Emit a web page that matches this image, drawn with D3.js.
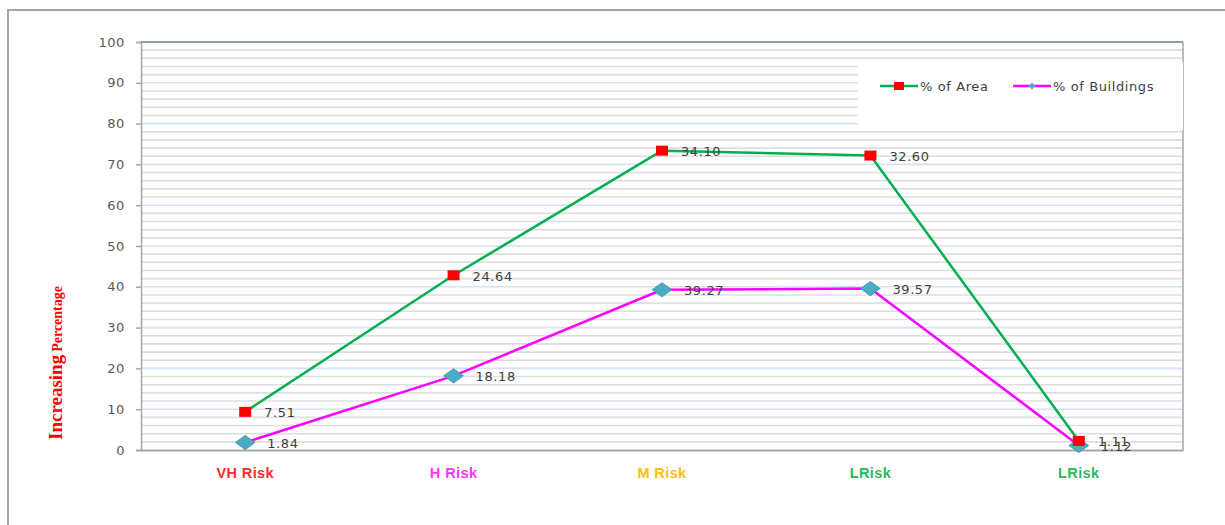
<!DOCTYPE html>
<html>
<head>
<meta charset="utf-8">
<script src="https://cdn.jsdelivr.net/npm/d3@7"></script>
<style>
  body { margin: 0; background: #fff; }
  svg { display: block; }
</style>
</head>
<body>
<svg id="chart" width="1225" height="525"></svg>
<script>
// categories and their label colours
const categories = ['VH Risk', 'H Risk', 'M Risk', 'LRisk', 'LRisk ']
const category_colors = ['#ff2a2a', '#ff33ff', '#ffc000', '#2eb85c', '#2eb85c']

// series values (the chart stacks Area on top of Buildings)
const buildings = [1.84, 18.18, 39.27, 39.57, 1.12]
const area = [7.51, 24.64, 34.10, 32.60, 1.11]

const y_ticks = [0, 10, 20, 30, 40, 50, 60, 70, 80, 90, 100]

const svg = d3.select('#chart')
const width = 1225, height = 525
const margin = ({ top: 42, right: 42, bottom: 75, left: 141 })

// outer frame
svg.append('path')
    .attr('d', `M8,${height} V10 H${width}`)
    .attr('fill', 'none')
    .attr('stroke', '#a6a6a6')
    .attr('stroke-width', 2)

const x = d3.scaleBand()
    .domain(categories)
    .range([margin.left, width - margin.right])
const y = d3.scaleLinear()
    .domain([0, 100])
    .range([height - margin.bottom, margin.top])

// minor grid every 2, major grid every 10
const minor = d3.range(2, 100, 2).filter(v => v % 10 !== 0)
svg.append('g')
    .selectAll('line')
    .data(minor)
    .join('line')
    .attr('x1', margin.left).attr('x2', width - margin.right)
    .attr('y1', d => y(d)).attr('y2', d => y(d))
    .attr('stroke', '#dedede')
    .attr('stroke-width', 1.6)
svg.append('g')
    .selectAll('line')
    .data(y_ticks.slice(1, -1))
    .join('line')
    .attr('x1', margin.left).attr('x2', width - margin.right)
    .attr('y1', d => y(d)).attr('y2', d => y(d))
    .attr('stroke', '#d5e1f5')
    .attr('stroke-width', 1.6)

// plot border
svg.append('line')
    .attr('x1', margin.left).attr('x2', width - margin.right)
    .attr('y1', y(100)).attr('y2', y(100))
    .attr('stroke', '#8e99ad').attr('stroke-width', 2)
svg.append('line')
    .attr('x1', width - margin.right).attr('x2', width - margin.right)
    .attr('y1', y(100)).attr('y2', y(0))
    .attr('stroke', '#a6a6a6').attr('stroke-width', 1.5)

// legend box
svg.append('rect')
    .attr('x', 858).attr('y', 62)
    .attr('width', width - margin.right - 858).attr('height', 68)
    .attr('fill', '#fff')

// axes
const yAxis = g => g
    .attr('transform', `translate(${margin.left},0)`)
    .call(d3.axisLeft(y).tickValues(y_ticks).tickSize(5).tickPadding(11))
const xAxis = g => g
    .attr('transform', `translate(0,${y(0)})`)
    .call(d3.axisBottom(x).tickSize(0).tickFormat(''))

svg.append('g').call(yAxis)
    .call(g => g.selectAll('line, path').attr('stroke', '#a6a6a6').attr('stroke-width', 1.5))
    .call(g => g.selectAll('text')
        .attr('font-family', 'DejaVu Sans')
        .attr('font-size', 13)
        .attr('letter-spacing', 0.6)
        .attr('fill', '#595959'))
svg.append('g').call(xAxis)
    .call(g => g.select('path').attr('stroke', '#a6a6a6').attr('stroke-width', 2))

svg.append('g')
    .selectAll('text')
    .data(categories)
    .join('text')
    .attr('x', d => x(d) + x.bandwidth() / 2)
    .attr('y', 478)
    .attr('text-anchor', 'middle')
    .attr('font-family', 'Liberation Sans')
    .attr('font-weight', 'bold')
    .attr('font-size', 14.5)
    .attr('letter-spacing', 0.4)
    .attr('fill', (d, i) => category_colors[i])
    .text(d => d.trim())

// y title
const title = svg.append('text')
    .attr('transform', `translate(62,${y(0) - 10}) rotate(-90)`)
    .attr('font-family', 'Liberation Serif')
    .attr('font-weight', 'bold')
    .attr('fill', '#ff0000')
title.append('tspan').attr('font-size', 19).text('Increasing')
title.append('tspan').attr('font-size', 14).attr('dx', 3).text('Percentage')

// series
const buildings_pts = categories.map((c, i) => ({ c, v: buildings[i], top: buildings[i] }))
const area_pts = categories.map((c, i) => ({ c, v: area[i], top: buildings[i] + area[i] }))
const cx = d => x(d.c) + x.bandwidth() / 2

const line = d3.line()
    .x(cx)
    .y(d => y(d.top))

svg.append('path')
    .datum(buildings_pts)
    .attr('fill', 'none')
    .attr('stroke', '#ff00ff')
    .attr('stroke-width', 2.5)
    .attr('stroke-linejoin', 'round')
    .attr('d', line)
svg.append('path')
    .datum(area_pts)
    .attr('fill', 'none')
    .attr('stroke', '#00b050')
    .attr('stroke-width', 2.5)
    .attr('stroke-linejoin', 'round')
    .attr('d', line)

const diamond = d3.symbol().type(d3.symbolDiamond2).size(140)
svg.append('g')
    .selectAll('path')
    .data(buildings_pts)
    .join('path')
    .attr('transform', d => `translate(${cx(d)},${y(d.top)}) scale(1.3,0.95)`)
    .attr('d', diamond)
    .attr('fill', '#4bacc6')
    .attr('stroke', '#3f97b0')
    .attr('stroke-width', 0.8)
svg.append('g')
    .selectAll('rect')
    .data(area_pts)
    .join('rect')
    .attr('x', d => cx(d) - 6)
    .attr('y', d => y(d.top) - 5)
    .attr('width', 12).attr('height', 10)
    .attr('fill', '#ff0000')

// value labels
const label_style = s => s
    .attr('font-family', 'DejaVu Sans')
    .attr('font-size', 13)
    .attr('letter-spacing', 0.6)
    .attr('fill', '#404040')
    .attr('dy', '0.35em')
svg.append('g')
    .selectAll('text')
    .data(area_pts)
    .join('text')
    .attr('x', d => cx(d) + 19)
    .attr('y', d => y(d.top) + 1)
    .call(label_style)
    .text(d => d.v.toFixed(2))
svg.append('g')
    .selectAll('text')
    .data(buildings_pts)
    .join('text')
    .attr('x', d => cx(d) + 22)
    .attr('y', d => y(d.top) + 1)
    .call(label_style)
    .text(d => d.v.toFixed(2))

// legend
const legend = [
    { name: '% of Area', color: '#00b050', x: 880 },
    { name: '% of Buildings', color: '#ff00ff', x: 1013 }
]
const lg = svg.append('g')
    .selectAll('g')
    .data(legend)
    .join('g')
    .attr('transform', d => `translate(${d.x},86)`)
lg.append('line')
    .attr('x1', 0).attr('x2', 38)
    .attr('stroke', d => d.color)
    .attr('stroke-width', 2.5)
lg.filter((d, i) => i === 0).append('rect')
    .attr('x', 14).attr('y', -4).attr('width', 10).attr('height', 8)
    .attr('fill', '#ff0000')
lg.filter((d, i) => i === 1).append('path')
    .attr('transform', 'translate(19,0)')
    .attr('d', d3.symbol().type(d3.symbolDiamond2).size(30))
    .attr('fill', '#4bacc6')
lg.append('text')
    .attr('x', 40)
    .attr('dy', '0.35em')
    .attr('font-family', 'DejaVu Sans')
    .attr('font-size', 13)
    .attr('letter-spacing', 0.6)
    .attr('fill', '#404040')
    .text(d => d.name)
</script>
</body>
</html>
